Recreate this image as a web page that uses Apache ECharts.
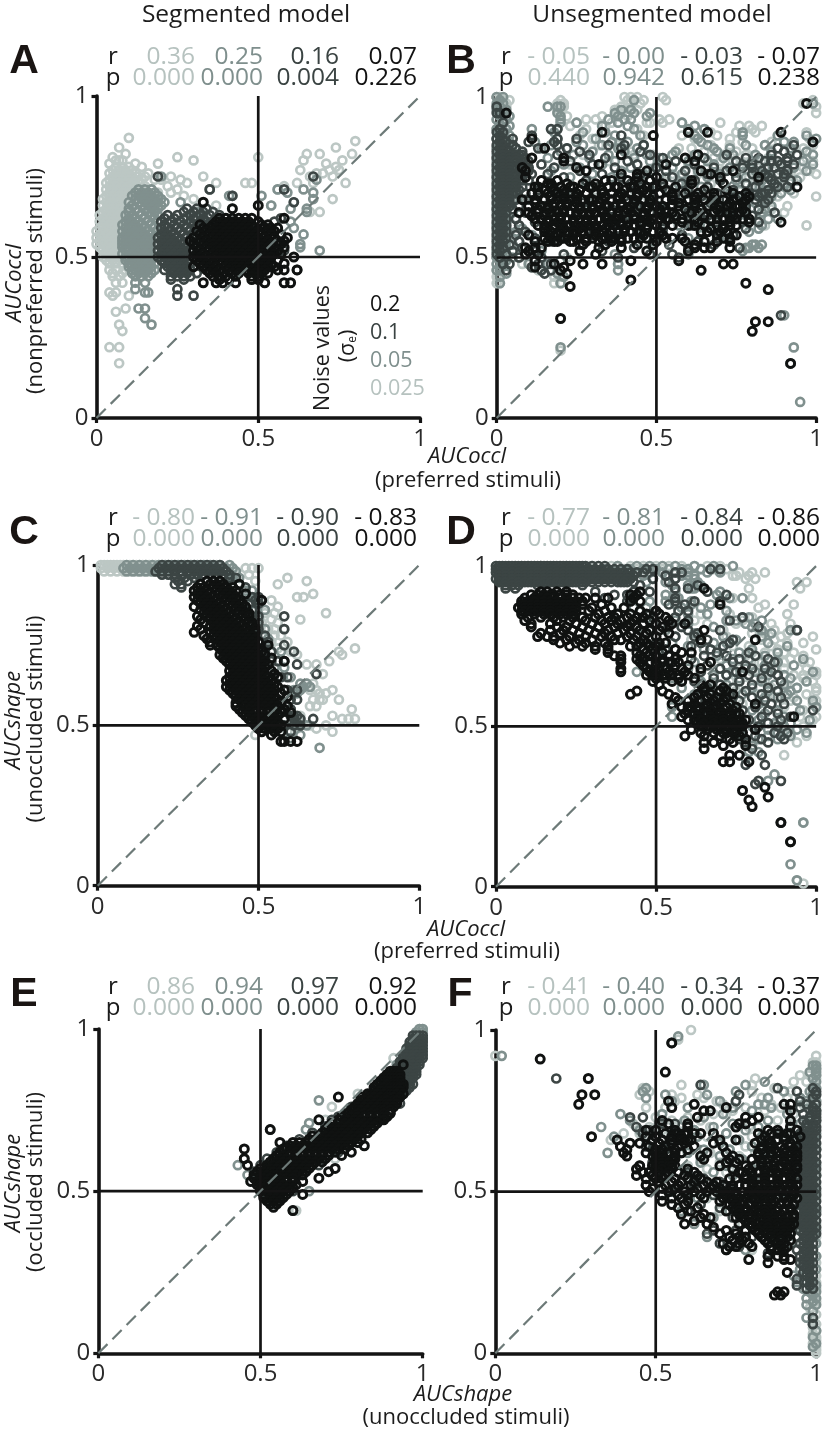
<!DOCTYPE html>
<html><head><meta charset="utf-8">
<style>html,body{margin:0;padding:0;background:#fff}#c{width:826px;height:1436px}</style>
<script src="https://cdn.jsdelivr.net/npm/echarts@6/dist/echarts.min.js"></script>
</head><body><div id="c"></div>
<script>
// Every list holds rows of [y, x, x, x ...] in hundredths of AUC.
const A_L=[[87,10],[86,80],[84,74,7],[82,9,65,69,79],[81,25,50,5],[80,6,7,8,30,64,76],[79,12,19,71,4],[78,14,74,6,8,10],[77,5,7,9,11,63,72,75],[76,4,6,8,10,12,68,70,16],[75,5,7,9,11,13,15,23,33,66,73],[74,4,6,8,10,12,14,18,20,26],[73,3,5,7,9,11,13,28,37,46,48,62,67,77],[72,4,6,8,10,12,15,22,58],[71,3,5,7,9,11,14,17,25,56],[70,4,6,8,10,12,19,23],[69,3,5,7,9,11,27],[68,2,4,6,8,10,73,30],[67,3,5,7,9,33],[66,2,4,6,8,37,54],[65,3,5,7,9,42],[64,2,4,6,8,66,69],[63,1,3,5,7,9],[62,2,4,6,8],[61,1,3,5,7],[60,2,4,6,8],[59,1,3,5,7,9],[58,0,2,4,6,8],[57,1,3,5,7],[56,0,2,4,6,8],[55,1,3,5,7],[54,0,2,4,6],[53,1,3,5,7],[52,2,4,6],[51,3,5,7],[50,2,4,6,8],[49,3,5,7],[48,4,6,8],[46,4,6,9],[45,5,8],[44,7,5],[42,8,6],[39,6,4],[38,5,10],[34,9],[33,6],[29,7],[27,8],[22,4,7],[17,7]];
const A_M=[[75,20],[74,68],[71,35,56,64,13,15,17],[70,12,14,16,18,59,67],[69,11,13,15,17,19,41,42,51],[68,12,14,16,18,20,67],[67,10,13,15,17,19,21,26,61],[66,11,14,16,18,20,54],[65,10,12,15,17,19,60,65],[64,10,13,16,18,31,65],[63,9,11,14,17,19,29,33],[62,10,12,15,18,28],[61,9,11,13,16,19,60],[60,8,10,12,14,17],[59,9,11,13,15,18,61],[58,8,10,12,14,16,19],[57,9,11,13,15,17,64],[56,8,10,12,14,16,18],[55,8,9,11,13,15,17],[54,8,10,12,14,16,18,63],[53,8,9,11,13,15,17,63],[52,9,10,12,14,16,18,69],[51,8,11,13,15,17],[50,9,10,12,14,16,18],[49,9,11,13,15,17],[48,10,12,14,16,18],[47,10,11,13,15,17],[46,11,12,14,16,18],[45,11,13,15,17],[44,12,14,16],[42,12,15],[40,12],[39,16,15],[34,13,15],[31,15],[29,17]];
const A_D=[[75,19,67],[71,58,35],[69,42],[67,61],[65,28,31,34],[64,27,30,33,36],[63,22,25,29,32,35,38],[62,21,24,27,30,33,37,40,57],[61,20,23,26,29,32,34,36,39,42,55],[60,21,24,27,30,33,35,38,41,44],[59,20,22,25,28,31,34,37,40,43,53],[58,21,23,26,29,32,35,38,41,46],[57,20,22,24,27,30,33,36,39,44,51],[56,19,21,23,25,28,31,34,37,42,48,54],[55,20,22,24,26,29,32,35,40,46,52],[54,19,21,23,25,27,30,33,38,44,50,56],[53,20,22,24,26,28,31,36,42,48,54],[52,19,21,23,25,27,29,34,40,46,52,58],[51,20,22,24,26,28,32,38,44,50,56],[50,19,21,23,25,27,30,36,42,48,54],[49,20,22,24,26,28,34,40,46,52],[48,21,23,25,27,29,32,38,44,50],[47,22,24,26,28,30,36,42,48],[46,21,23,25,27,29,34,62],[45,24,26,28,31],[44,23,25,27,29],[43,23,27],[40,25],[38,25,30]];
const A_K=[[67,33],[66,50],[65,42],[62,38,40,42,44,46,48,58],[61,37,39,41,43,45,47,50],[60,32,36,38,40,42,44,46,48,51,53],[59,33,35,37,39,41,43,45,47,49,52,54,56],[58,31,34,36,38,40,42,44,46,48,50,53,55],[57,32,35,37,39,41,43,45,47,49,51,54,57],[56,30,33,36,38,40,42,44,46,48,50,52,55,59],[55,29,32,34,37,39,41,43,45,47,49,51,53,56,58],[54,30,33,35,36,38,40,42,44,46,48,50,52,54,57],[53,31,34,36,37,39,41,43,45,47,49,51,53,55,58],[52,30,32,35,37,38,40,42,44,46,48,50,52,54,56],[51,31,33,36,38,39,41,43,45,47,49,51,53,55,57],[50,30,32,34,37,39,40,42,44,46,48,50,52,54,61],[49,31,33,35,38,40,41,43,45,47,49,51,53,56],[48,32,34,36,39,41,42,44,46,48,50,52,54,58],[47,30,33,35,37,40,42,43,45,47,49,51,53,55],[46,34,36,38,41,43,44,46,48,50,52,56,58,62],[45,35,37,39,42,44,47,49,51,53],[44,36,38,40,43,48,50],[43,38,41,48,50],[42,33,37,39,43,52,58,60]];

const B_L=[[100,0,1,40,42,44,52],[99,2,4,20,41,43,46,53,99],[98,1,19,21,96,3,42,45],[97,0,21,3,39,100],[96,2,19,37,40,42,38,44],[95,1,38,100],[94,22,33,41],[93,0,3,51,54,28,31],[92,2,25,36,47,58,70,48,52],[91,1,23,34,76,79,83],[90,0,3,28,44,65,80],[89,2,67,81,75,97],[88,1,26,46,58,69,88],[87,0,3,30,62,73,98],[86,2,4,18,36,77,86,90],[85,1,32,38,67,73,84,99],[84,0,3,57,61,80,96],[83,2,42,65,75,92],[82,1,4,27,43,49,71,78,94],[81,0,3,52,68,85,97],[80,2,35,56,74,83,99,60,70],[79,1,23,60,88,93],[78,0,3,66,76,96],[77,2,48,59,71,89,98],[76,1,55,63,83,92,100],[75,0,46,58,79,95],[74,2,52,70,87],[73,1,44,67,76,92],[72,0,60,82,90],[71,2,31,54,73,85],[70,1,41,64,80,93],[69,0,47,78,88,100],[68,2,36,57,84],[66,1,50,69,91,83],[65,0,62,86],[64,2,43,75,90],[62,1,55,82],[60,0,2,29,84,97],[58,1,3,66],[56,0,2,14],[54,1,3,46],[52,0,2],[50,1,3,22],[48,0,2,8,38],[46,0,1,19,13],[44,0,1,18,20],[42,0,1,18,20],[21,20]];
const B_M=[[100,0,2],[99,1,43],[98,0,2,99],[97,1,16,20,19],[96,0,3,39,42],[95,2,19,37,43,48],[94,1,4,20,38,47],[93,0,3,20,35,40,42],[92,2,20,25,38,58],[91,1,4,41,62,33],[90,0,3,11,19,43,60,65],[89,2,18,27,34,60,77],[88,1,4,37,45,62,77,88,97],[87,0,3,19,31,63,100],[86,2,4,12,25,36,41,64,90,93,99],[85,1,3,5,17,27,33,46,66,78,84],[84,0,2,4,6,14,22,38,44,68,73,92],[83,1,3,5,20,30,40,56,69,86,97],[82,0,2,4,6,24,35,47,55,62,74,81,99],[81,1,3,5,8,16,29,43,51,71,91],[80,0,2,4,6,37,48,60,66,80,86,96],[79,1,3,5,21,33,52,68,77,89,99],[78,0,2,4,7,26,42,55,73,84,93],[77,1,3,5,9,17,39,49,63,81,97],[76,0,2,4,6,30,46,58,70,88,91],[75,1,3,5,23,36,53,66,78,86],[74,0,2,4,7,14,44,60,75,83,94],[73,1,3,5,28,50,57,71,90],[72,0,2,4,18,40,64,80,87],[71,1,3,6,33,54,76,84,92],[70,0,2,4,24,47,60,73,81,89],[69,1,3,38,68,78,86],[68,0,2,5,9,56,75,83],[67,1,3,29,44,65,81],[66,0,2,7,51,70,86],[65,1,3,36,60,78,84],[64,0,2,5,46,68,83],[63,1,3,11,56,73,80],[62,0,2,6,47,88,85],[61,1,3,41,62,77],[60,0,2,5,18,57,66,83],[59,1,3,8,71,82],[58,0,2,6,52,79],[57,1,3,11,45,64],[56,0,2,5,60,72],[55,1,3,7,49],[54,0,2,5,80,81,83],[53,1,3,8,39,78,79,82],[52,0,2,14,77],[51,1,3,37,60],[50,0,2,5,7],[49,1,3,20],[48,0,2,10,16,38],[47,1,11],[46,0,1,14,38],[45,3,19],[44,1,21],[42,1,20],[32,90],[22,20,93],[17,92],[5,95]];
const B_D=[[97,0],[95,0,1],[92,2],[90,1,17,19],[89,0,2],[88,1,11,39],[87,0,2,5,19,25],[86,1,3,10,18],[85,0,2,5,19,35,40,46,93],[84,1,3,6,13,22,39,88],[83,0,2,4,8,26,45,90],[82,1,3,5,7,19,29,48,72,86,94,2,4,6,8],[81,0,2,4,6,9,34,52,65,78,82,91],[80,1,3,5,8,23,41,56,75,86,2,4,6,10,84,88,91],[79,0,2,4,7,14,30,44,62,80,89,93],[78,1,3,5,6,18,37,50,68,77,85,2,4,8,10,80,87],[77,0,2,4,7,10,26,53,59,72,83,91],[76,1,3,5,16,33,45,66,80,88,2,4,6,8,11,84,90],[75,0,2,4,6,21,39,55,75,85,90],[74,1,3,5,8,28,48,62,70,82,2,4,6,10,86,92],[73,0,2,4,6,17,42,58,78,87],[72,1,3,5,24,35,52,66,81,2,4,6,8,30,32,45,50,88,91],[71,0,2,4,7,13,45,60,74,85],[70,1,3,5,31,56,69,79,83,2,4,6,9,84,86],[69,0,2,4,20,40,64,76,82],[68,1,3,6,10,49,72,81,2,4,75,85],[67,0,2,4,27,58,67,84],[66,1,3,15,44,62,75,78,2,4,7],[65,0,2,5,36,53,70,82],[64,1,3,9,23,48,73,87,60,65],[63,0,2,18,41,60,66,80],[62,1,3,6,32,56,77],[61,0,2,12,46,69,82],[60,1,3,7,25,61,73],[59,0,2,16,38,52,78],[58,1,3,9,44,66],[57,0,2,6,30,58,74],[56,1,3,12,22,50,69],[55,0,2,7,17,35,63],[54,1,4,26,54,68],[53,0,2,8,43,60,76],[52,1,5,12,33],[51,0,3,21,48,55],[50,1,7,14,38,57],[48,2,4,13,17],[47,11],[46,3,14,17],[45,15],[32,89]];
const B_K=[[98,97],[95,3],[89,33,60,66,89],[88,49],[87,11],[86,99],[84,15],[82,39,63],[81,11,21,59],[80,21,62],[79,32,53],[78,25,8],[77,28,47,64,74,9],[76,67,39,44],[75,9,44,50,70,82],[74,14,19,34,41,61,36,48],[73,17,22,27,31,45,52,61,71,16],[72,12,20,24,29,35,38,43,49,56,94,13,17,23,30,37,42,47],[71,15,18,21,26,33,40,46,53,65,72],[70,11,13,19,23,28,31,36,42,47,51,59,63,74,78,16,21,25,33,39,44,55,68],[69,17,21,25,34,38,44,49,55,62,68,76,79],[68,8,15,19,23,27,30,36,41,46,53,60,65,71,78,12,17,21,25,29,33,38,43,48,55,62,68,74],[67,12,18,22,25,32,39,43,48,57,62,73,77],[66,10,14,20,24,28,34,37,45,50,55,66,70,75,16,18,22,26,30,32,35,39,42,47,52,57,62,72,76],[65,13,16,21,26,30,33,41,47,51,59,64,69,77],[64,7,17,19,23,27,31,36,40,49,53,61,68,72,76,10,13,15,21,25,29,33,38,42,46,51,55,63,70,74,78],[63,11,15,20,25,29,34,38,43,46,52,56,65,74],[62,14,18,22,26,32,35,38,41,51,54,67,71,79,12,16,20,24,28,30,34,37,43,47,49,53,58,62,69,73,75,77],[61,16,19,24,28,30,36,45,48,58,63,73,89,79],[60,13,20,23,27,33,37,43,50,60,69,75,15,18,22,25,29,31,35,39,41,45,47,52,55,62,65,71,73],[59,15,18,21,26,31,34,40,47,67,71],[58,17,22,25,29,36,42,49,64,72,15,20,24,27,31,33,38,40,45,51,66,70],[57,10,19,24,31,35,46,52,69,75],[56,15,21,28,34,43,37,39,47,55,73,17,20,25,30,33,36,41,45,53,58,71],[55,18,23,39,50,59,65,69,73,12,16,19,24,28,32,36],[54,27,34,44,49,62],[53,9,12,14,32,39,65,67,73,62],[52,26,47,10,60],[51,9,13,31],[49,12,23,42,57],[48,18,27,33,71,74],[47,12,21],[46,20,64],[45,22],[43,42],[42,78],[41,23],[40,85],[31,20],[30,81,85],[27,80],[17,92]];

const C_L=[[100,1,2,3,4,5,6,7,8,9,10,11,12,13,14,15,16,17,18,19,20,22,24,26,30,34,37],[99,1,3,5,7,9,11,13,15,17,19,21,23,35,36,46,48,50],[98,2,4,6,8,10,12,14,16,18],[97,43,47],[96,59],[95,65,49],[94,56],[91,67],[90,62,64],[89,54,50],[87,56],[85,55,52,71],[83,63,54],[82,51,56],[80,53,55,58],[78,52,55,57],[76,54,59],[74,80,56],[73,60,75],[72,76,62],[70,72],[69,68,65],[66,68,70],[63,67,65],[61,73,68,66],[60,69,71],[58,75,70,67,69],[56,66,68],[55,79],[53,73,63],[52,80,76,78],[50,71,66],[49,68,62],[48,73,59],[47,49]];
const C_M=[[100,9,11,13,15,17,19,21,23,25,27,29,31,33,35,38,41],[99,8,10,12,14,16,18,20,22,24,26,28,30,32,34,36,40,42],[98,9,11,13,15,17,19,21,38,40,43],[96,42,44],[95,41],[92,46,48],[90,49],[88,50,48],[86,49,52],[83,50],[80,52],[77,53],[73,54,57],[70,56],[68,55,58],[65,60],[63,63,65],[62,66,64],[61,63,61],[60,62],[55,60],[52,63],[50,65,62],[47,63],[46,60],[43,69]];
const C_D=[[100,20,22,24,26,28,30,32,34,36,38],[99,19,21,23,25,27,29,31,33,35,37,39],[98,18,20,22,24,26,28,30,32,34,36,38,40],[97,20,22,24,26,29,31,33,35,37,39,41],[96,24,27,30,41,43],[95,25,28],[94,24,26,44],[93,26,46],[90,48,50],[89,51,49],[88,47,50],[86,48,46],[84,58,48,50],[82,47,50],[80,58,50,48],[78,49,52],[76,50,53],[75,58],[73,61,52,54],[70,58,54,56],[69,62],[66,55,68],[65,57,59],[61,62,59],[58,60,62],[55,57,60],[53,60,62,61],[52,67,61,63],[50,58,61,63],[48,60]];
const C_K=[[95,34,36,38],[94,32,35,37,39,44],[93,31,33,36,38,40,42],[92,30,32,34,37,39,41,43],[91,31,33,35,38,40,42,46],[90,30,32,34,36,39,41,43],[89,31,33,35,37,40,42,44,51],[88,32,34,36,38,41,43,45],[87,30,33,35,37,39,42,44,46],[86,32,34,36,38,40,43,45],[85,33,35,37,39,41,44,46,47],[84,31,34,36,38,40,42,45,47],[83,32,35,37,39,41,43,46],[82,33,36,38,40,42,44,47,48],[81,31,35,37,39,41,43,45,48],[80,32,36,38,40,42,44,46,49],[79,30,35,37,39,41,43,45,47,49],[78,33,36,38,40,42,44,46,48],[77,34,37,39,41,43,45,47,49],[76,35,38,40,42,44,46,48,50],[75,35,37,39,41,43,45,47,49,53],[74,38,40,42,44,46,48,50],[73,39,41,43,45,47,49,51],[72,38,40,42,44,46,48,50,52],[71,39,41,43,45,47,49,54],[70,40,42,44,46,48,50,52,58],[69,41,43,45,47,49,51,53],[68,42,44,46,48,50,52],[67,41,43,45,47,49,51,54],[66,42,44,46,48,50,52,55],[65,41,43,45,47,49,51,53,56],[64,40,42,44,46,48,50,52,54],[63,41,43,45,47,49,51,53,55],[62,40,42,44,46,48,50,52,54,56],[61,41,43,45,47,49,51,53,55,58],[60,42,44,46,48,50,52,54,57],[59,43,45,47,49,51,53,55,59],[58,44,46,48,50,52,54,56],[57,43,45,47,49,51,53,55,57],[56,43,46,48,50,52,54,56,59],[55,44,46,47,49,51,53,55,58],[54,45,47,49,51,53,55,57,60],[53,46,48,50,52,54,56],[52,47,49,51,53,55,58],[51,48,50,52,54,56],[50,49,51,53,55,57],[49,50,52,54,56],[48,51,55,57],[47,54],[45,57,58,60,62]];

const D_L=[[100,0,2,4,6,8,10,12,14,16,18,20,24,28,32,36,38,42,46,50,54,58,62,66,70],[99,1,3,5,7,9,11,13,15,17,22,26,30,34,40,44,52,60,64,68,72],[98,0,2,4,8,48,56,76,80,84],[97,75,79,74],[96,78,81],[95,94,97],[93,79,95],[90,74,80],[88,84,93],[87,82],[85,64,73,91],[84,80],[83,62,77],[82,66,86,75,92],[80,71,87],[79,84,80,91],[78,99,72,89],[77,61,83,87],[76,91,96],[75,74,86,79],[74,100,88],[73,90,84,80,93],[72,78,96],[71,70,92,88],[70,98,74,83,82,90,96],[68,76,90,97],[67,85,80,100],[66,72,88,93,100,96],[65,96,81],[64,73,84,99],[63,78,91],[62,67,86,94,100,90],[61,100,75,90],[60,82,97],[59,69,87,93],[58,92,100],[57,77,99],[56,100,90],[55,83,96],[53,100,95],[52,99,88],[50,96,89],[48,92],[47,89,97],[45,94],[41,90],[20,96],[1,96],[2,94]];
const D_M=[[100,14,22,30,38,44,48,52,56,62,68,74],[99,26,34,42,46,50,54,58,60,64,70],[98,36,40,44,48,52,56,58,60,66,70],[97,46,54,58,60,62],[96,49,56,62],[95,47,53,63],[94,60,55,64],[93,62,61],[92,56,70],[91,53,69],[90,73,77,57],[89,48,53,61],[88,56,67,61],[87,43,47,58,64],[86,72,45],[85,51,60,66],[84,77,79,46],[83,56,83,72,75],[82,49,60,78,81],[81,44,58,68,80],[80,94,92,53,83],[79,46,62,86],[78,56,83,71],[77,64,74,75],[76,55,68,85,72],[75,48,60,71,91],[74,51,65,80],[73,76,88],[72,54,69,84],[71,74,79,96],[70,46,62,88],[69,72,84,93],[68,60,78,87],[67,44,74,81,99],[66,68,90,85],[65,55,76,92],[64,64,83,97],[63,72,87,90],[62,58,80,94],[61,70,85,92],[60,62,77,91],[59,74,84,88],[58,60,69,94,99],[57,67,82,86],[56,55,74,100],[55,80,88,95],[54,63,70,84],[53,55,75,90],[52,66,82,98],[51,74,87,92],[50,80,90],[49,72,85,94],[48,88,97],[47,77,92,85],[46,82,88],[44,80],[42,79,82],[40,78],[35,87],[33,85],[20,96],[7,92],[2,94]];
const D_D=[[100,0,2,4,6,8,10,12,14,16,18,20,22,24,26,28,1,3,5,7,9,11,13,15,17,19,21,23,25,27,30,32,34],[99,0,1,3,5,7,9,11,13,15,17,19,21,23,25,27,29,31,33,35,37,39,41,47,49,67,70],[98,0,2,4,6,8,10,12,14,16,18,20,22,24,26,28,30,32,34,36,38,40,42,44,46,56,58,1,3,5,7,9,11,13,15,17,19,21,23,25,27],[97,1,3,5,7,9,11,13,15,17,19,21,23,25,27,29,31,33,35,37,39,41,43,53],[96,0,2,4,6,8,10,12,14,16,18,20,22,24,26,28,30,32,34,36,38,40,42,49,56,1,3,5,7,9,11,13,15,17,19,21,23,25,27,29,31,33,35,37,39,41],[95,2,4,6,8,10,12,14,16,18,20,22,24,28,36,39,41,54,1,3,5,7,9,11,13,15,17,19,21,23,25,27,30,32,34,38,40,43],[94,3,5,7,13,27,45,63],[93,3,6,56,60],[92,31,43,48,66],[91,37,41,72],[90,34,42,56],[89,41,56,70,62],[88,54,59],[86,57,60],[85,48,38],[84,49,77,56],[83,43,60,73],[81,54,82,58],[80,60,94,70],[79,47,63],[78,56,62],[77,74,66],[76,73,50,64],[75,61,71],[74,67,56,53],[73,69,79],[72,65,81,72],[71,61,76,85],[70,74,87],[69,66,78],[68,70,84,80],[67,64,75,86],[66,72,79,88],[65,68,83],[64,62,76,89],[63,70,80],[62,74,85,66],[61,67,78,88],[60,64,73,83],[59,70,80,89],[58,63,76,84],[57,67,86,90],[56,72,81],[55,69,77,85,99],[54,75,88],[53,65,83,92],[52,71,79,89],[51,68,85],[50,75,82,88],[48,87,91],[47,81,89],[46,76,83,90],[45,78,85],[43,80],[41,83],[38,78,84],[33,89,82],[32,81],[20,89],[14,92]];
const D_K=[[93,65],[92,14,16,19,22,45],[91,11,13,15,17,18,20,22,24,44,42],[90,9,12,14,16,18,20,22,24,26,28,31,35,43],[89,8,11,13,15,17,19,21,23,25,27,42,45,10,12],[88,8,10,12,14,16,18,20,22,24,27,33,70,9,11,13,15,17,19,21,23],[87,7,9,11,13,15,17,19,21,23,25,30,36,40],[86,8,10,12,14,16,19,21,23,25,29,34,45,50,9,11,13,15,17,20,22,24],[85,8,12,15,17,20,22,24,32,38,42,47,51],[84,10,14,18,21,24,27,31,35,37,41,44,46,53],[83,9,19,23,28,33,36,39,43,48,54],[82,11,17,25,30,34,38,42,46,50,59,55],[81,11,19,22,27,32,37,41,44,52],[80,17,21,24,29,35,40,45,48,51,65],[79,14,20,26,31,34,38,42,47,54],[78,13,16,18,23,28,33,36,41,44,50],[77,18,22,26,30,37,39,43,46,81,64],[76,20,25,28,34,45,47,51,53],[75,23,27,31,35,42,48,44,50],[74,31,35,46,49,56],[73,35,44,47,52,58,61],[72,37,39,45,48,50,54],[71,39,44,46,52,56],[70,39,45,48,54,57,67,50,52,55],[69,46,50,56,60],[68,39,47,51,53,58,64],[67,39,48,50,54,59,77],[66,49,52,55,60,47,50,53,57],[65,50,53,57,62],[64,49,55,58],[63,51,67,64],[62,65,71],[61,44,52,65,70,72],[60,42,54,63,67,74],[59,56,62,66,69,72],[58,57,60,64,68,71],[57,55,62,66,70,73,81],[56,58,61,65,68,72,75,60,63,66,69,72],[55,60,63,67,70,74],[54,59,62,65,69,72,76,62,66,70,73,75],[53,58,63,67,71,73,93],[52,60,66,69,72,75,78,62,64,68,71,74,76],[51,63,65,68,71,74,77],[50,66,68,70,73,76,64,67,69,72,74,77],[49,61,66,69,72,75,81],[48,64,71,74,77,68,72,75],[47,59,65,70,76],[46,73,78],[45,65,68,74],[44,71,78],[43,65],[41,73,76],[39,71,73,79],[31,84],[30,77],[28,85],[27,79],[25,80],[20,89],[14,92]];

const E_L=[[100,99,100],[99,99,100,98],[98,98,100],[97,98,100],[95,97,99],[93,96,99],[91,91,94,98],[89,93,97],[87,95],[85,91],[80,84,80],[76,72],[72,70],[68,66],[64,60],[60,73],[56,64],[52,55],[50,54],[48,53],[44,60,61]];
const E_M=[[100,99,100],[99,100,98],[97,97,99,100],[95,96,98],[93,95,97],[91,94,97],[89,92,96],[87,93,97],[85,92,96],[83,89,95],[81,85,92],[79,83,90],[78,68],[75,79],[71,75,65],[69,53,64],[67,66],[63,57],[60,60,45],[58,43,64],[55,46],[53,47,60],[50,52,65],[46,54],[44,60]];
const E_D=[[98,99,100,97,98],[97,99,100,97,98],[96,98,100,96,97,99],[95,98,100,96,97,99],[94,97,99,95,96,98,100],[93,97,99,95,96,98,100],[92,96,99,94,95,97,98,100],[91,96,98,94,95,97,99,100],[90,95,98,93,94,96,97,99],[89,95,98,93,94,96,97,99],[88,94,97,92,93,95,96,98],[87,94,97,95,96,98],[86,93,97,95,96,98],[85,93,96,94,95,97],[84,92,96,94,95],[83,91,95,97,93,94,96],[82,90,96,93,95],[81,88,95,94],[80,86,91,94],[79,84,93],[78,82,87,92],[77,80,93],[76,78,84,91],[75,79,90],[74,76,82,90],[73,74,88],[72,72,78,85],[71,75,83],[70,70,80],[68,66,72,77],[66,62,70],[64,58,66],[62,55,65,74],[60,52,62],[58,50,58,68],[56,48,60],[54,48,53],[52,49,55],[50,50,60],[48,52,56]];
const E_K=[[89,94],[87,90,91,92],[86,89,90,91,92,93],[85,88,89,90,91,92,93],[84,87,88,89,90,91,92,93],[83,86,88,89,91,92,93,94],[82,85,87,88,90,91,92,93,94],[81,85,86,87,89,90,92,93],[80,83,84,85,86,88,90,91,92,94],[79,74,81,83,84,85,87,89,90,91,93],[78,81,82,84,86,88,89,91,92],[77,80,81,83,85,87,89,90,92],[76,79,80,82,84,86,88,89,91],[75,78,80,81,83,85,87,88,90],[74,77,79,80,82,84,86,88,90],[73,75,77,78,80,82,84,86,88,89],[72,68,74,76,77,79,81,83,85,87,88],[71,72,74,76,78,80,82,84,86],[70,71,73,75,77,79,81,83,85],[69,53,70,72,74,76,78,80,82,84],[68,69,71,73,75,77,79,81,83],[67,66,68,70,72,74,76,78,80],[66,65,67,69,71,73,75,77,79,81],[65,56,60,62,64,66,68,70,72,74,76,78,80],[64,59,61,63,65,67,69,71,73,75,77,82],[63,45,57,58,60,62,64,66,68,70,72,74,76],[62,56,59,61,63,65,67,69,71,73,78],[61,55,57,59,61,63,65,67,69,71,75],[60,45,54,56,58,60,62,64,66,68,70],[59,53,55,57,59,61,63,65,67,69],[58,46,52,54,56,58,60,62,64,66],[57,50,52,53,55,57,59,61,63,65,73],[56,49,51,53,54,56,58,60,62,64,71],[55,48,50,52,54,55,57,59,61,63],[54,48,50,51,53,55,56,58,60,68],[53,47,49,51,52,54,56,58,60,63],[52,49,50,52,53,55,57,59,61],[51,50,51,53,54,56,58,60],[50,50,52,53,55,57,59],[49,51,53,54,56,58,63],[48,51,53,55,57],[47,52,54,56],[46,53,55],[45,54],[44,60]];

const F_L=[[100,61],[97,57],[92,0,100],[90,100,99],[88,99,100],[86,98,100,95],[85,81,100],[84,93,97],[83,58,80],[82,46,87,100],[81,48,80,92,99],[80,45,55,63,100],[79,58,65,83,91],[78,56,69,75,100],[77,62,71,86,96],[76,47,53,78,89,100],[75,74,84,98],[74,68,72,93],[73,50,60,82,99],[72,55,64,88],[71,43,58,76,92,100],[70,48,67,79,96],[69,52,62,85,99],[68,40,45,72,90],[67,56,66,80,100],[66,36,61,75,95],[65,47,70,86,98],[64,58,78,100],[63,73,84,96],[62,67,81,99],[61,54,76,93],[60,64,88,97],[59,70,82,100],[58,60,75,95],[57,66,85,99],[56,72,91,100],[54,78,88,96],[52,60,84,100],[50,74,93,98],[48,66,87,100],[46,80,96],[44,70,90,100],[42,63,84,98],[40,77,100],[38,95,99],[36,83,100],[34,89,96],[32,80,99],[30,100,97],[28,96,100],[26,98],[24,100,96],[22,98,100],[20,100],[18,99],[16,100],[14,98],[12,100],[10,99],[9,100],[8,99],[7,100],[6,99],[5,100],[4,100],[3,99],[2,100],[1,100],[0,100]];
const F_M=[[98,57],[92,2],[89,99,100],[88,100],[87,98,100],[86,100],[85,99],[84,84,100],[83,65,78],[82,47,100],[81,46,75,90,98],[80,53,66,99],[79,47,85,95],[78,55,70,97,100],[77,82,84,92],[76,60,74,86,99],[75,67,80,100],[74,39,52,71,91],[73,65,78,99],[72,42,59,85,100],[71,51,74,95,98],[70,33,68,82],[69,45,62,78,99],[68,55,72,89,100],[67,37,63,83,96],[66,49,58,76,93],[65,70,86,99],[64,54,80,97],[63,65,73,100],[62,35,60,85],[61,70,92,96],[60,55,77,99],[59,64,83,97],[58,49,72,100],[57,59,80,98],[56,68,88,95],[55,74,100],[54,62,83,96],[52,57,78,99],[50,70,90,100],[48,63,85,97],[46,77,99],[44,58,73,100],[42,68,95,97],[40,62,82,99],[38,75,96,100],[36,66,87,98],[34,92,100],[32,78,97],[30,85,99,100],[28,96,98],[26,95,100],[24,93,97],[22,94,99],[21,100],[20,96,99],[19,98,100],[18,99],[17,97,100],[16,99],[15,97,100],[13,99],[11,97],[9,99],[7,100],[5,99],[3,100],[2,99]];
const F_D=[[96,55],[85,19],[83,64],[82,88,99],[81,94,100],[80,76,100],[79,99],[78,75,95],[77,97,100],[76,99,95],[75,99,100],[74,96,100],[73,42,46,98,100],[72,96,98,100],[71,52,56,97,99],[70,44,97,99,100],[69,48,96,98,100],[68,46,95,97,99],[67,50,96,98,100],[66,52,94,97,99],[65,55,96,98,100],[64,47,95,97,99],[63,49,53,94,96,98,100],[62,51,58,95,97,99],[61,50,96,98,100],[60,53,94,95,97,99],[59,49,96,98,100],[58,45,94,95,97,99],[57,55,96,98,100],[56,48,60,95,97,99],[55,52,94,96,98,100],[54,65,95,97,99],[53,70,96,98,100],[52,47,62,94,95,97,99],[51,73,96,98,100],[50,55,95,97,99],[49,68,96,98,100],[48,60,94,95,97,99],[47,75,96,98,100],[46,64,80,95,97,99],[45,70,96,98,100],[44,60,94,95,97,99],[43,85,96,98,100],[42,74,95,97,99],[41,82,96,98,100],[40,66,94,95,97,99],[39,90,96,98,100],[38,68,75,95,97,99],[37,66,85,96,98,100],[36,80,94,97,99],[35,88,96,98],[34,70,95,97,99],[33,76,96,98],[32,72,94,97,99],[31,85,96,98],[30,95,97,99],[29,96,98],[28,95,97,99],[27,96,98],[26,97,99],[25,96,98],[24,97,99],[23,94,98],[22,97,99],[21,94,98],[20,97,99],[11,99],[9,99]];
const F_K=[[96,55],[91,14],[87,53],[85,29],[80,27,31],[78,54],[77,26,62,92,90],[76,72,55],[75,67,65,92],[73,63,82,78],[72,52,80,92],[71,54,78,60,76],[70,92,60,75],[69,47,50,56,85,88,94],[68,53,56,60,68,82,86,91,88,92,57,59,62,64],[67,30,47,50,55,58,84,90,95],[66,38,49,52,57,61,70,75,83,88,93,85,90,55,58,59,60],[65,42,45,51,55,59,68,81,86,92],[64,39,48,53,57,62,71,85,89,94,83,86,92],[63,41,50,52,56,60,83,87,90,93],[62,40,47,50,54,58,66,72,84,88,92,82,86,90,94,52,54,56],[61,41,49,52,56,64,74,82,86,90,94],[60,51,53,65,73,76,85,88,92,80,83,90,94,50,52,53,55,56],[59,50,52,54,72,75,83,87,90,93],[58,45,49,51,53,56,70,81,85,89,92,78,83,87,91,94,50,52,54,55],[57,44,50,52,55,60,74,79,84,87,91,94],[56,46,48,51,54,57,62,77,82,86,90,93,76,80,84,88,91],[55,44,49,53,59,63,78,80,84,88,92],[54,47,50,52,56,60,64,75,82,86,90,94,73,78,80,84,88,92],[53,51,55,58,62,66,69,80,84,88,92],[52,47,53,57,61,65,68,71,78,82,86,90,94,74,76,80,84,88,92],[51,49,52,56,63,67,70,74,81,85,89,93],[50,48,54,59,62,66,69,73,77,80,84,87,91,71,75,79,82,86,89,93],[49,52,57,60,64,72,75,79,83,86,90,93],[48,55,58,65,71,73,76,78,82,85,88,92,74,80,84,86,90,94],[47,52,60,70,74,77,81,84,87,91],[46,55,59,73,75,79,82,86,89,93,77,84,91],[45,57,63,74,76,78,81,85,88,92],[44,61,72,75,78,80,83,86,90,76,82,84,88,92],[43,58,65,76,79,82,84,87,89,93],[42,64,67,77,80,83,86,88,91,75,79,85,89,93],[41,62,78,81,85,87,90,92],[40,59,66,79,82,84,86,89,91,76,80,85,88,93],[39,68,80,83,85,88,90,92],[38,72,81,84,87,89,91,78,82,86,88,90],[37,70,75,82,85,86,88,90,92],[36,73,76,78,83,86,89,91],[35,74,77,84,87,89,92],[34,71,76,79,85,88,90],[33,73,75,80,86,89,91],[32,72,86,88,90],[30,85,88,90],[29,79,92,90],[28,85],[25,91],[19,90,88],[18,87,89]];

const rowsA={r:["0.36","0.25","0.16","0.07"],p:["0.000","0.000","0.004","0.226"]};
const rowsB={r:["- 0.05","- 0.00","- 0.03","- 0.07"],p:["0.440","0.942","0.615","0.238"]};
const rowsC={r:["- 0.80","- 0.91","- 0.90","- 0.83"],p:["0.000","0.000","0.000","0.000"]};
const rowsD={r:["- 0.77","- 0.81","- 0.84","- 0.86"],p:["0.000","0.000","0.000","0.000"]};
const rowsE={r:["0.86","0.94","0.97","0.92"],p:["0.000","0.000","0.000","0.000"]};
const rowsF={r:["- 0.41","- 0.40","- 0.34","- 0.37"],p:["0.000","0.000","0.000","0.000"]};
const noiseLabels=["0.2","0.1","0.05","0.025"];
const unitLine=[[0,0],[1,1]], vLine=[[0.5,0],[0.5,1]], hLine=[[0,0.5],[1,0.5]];
const ringColors=['#bcc7c4','#80908e','#3c4544','#101211'];
const textColors=['#b6c2bf','#7f8f8d','#3a4342','#121212'];
const FONT='"Open Sans"';

const panels=[
 {l:'A',s:[A_L,A_M,A_D,A_K],t:rowsA,g:[96.5,96,323.5,322],lx:24,ly:62,stat:[57,78],col:0},
 {l:'B',s:[B_L,B_M,B_D,B_K],t:rowsB,g:[496.7,97,322.6,321],lx:461,ly:62,stat:[57,78],col:1},
 {l:'C',s:[C_L,C_M,C_D,C_K],t:rowsC,g:[97.7,565,321.6,320.7],lx:24,ly:533,stat:[518,539],col:0},
 {l:'D',s:[D_L,D_M,D_D,D_K],t:rowsD,g:[496,566,322.7,320.7],lx:461,ly:533,stat:[518,539],col:1},
 {l:'E',s:[E_L,E_M,E_D,E_K],t:rowsE,g:[98.3,1029,324.4,324.3],lx:24,ly:995,stat:[987,1008],col:0},
 {l:'F',s:[F_L,F_M,F_D,F_K],t:rowsF,g:[495.3,1030,323,323.3],lx:460,ly:995,stat:[987,1008],col:1}
];
const colX=[[195,263,339,417],[590,665,743,820]], rX=[113,506];
function expand(rows){const o=[];rows.forEach(r=>{for(let i=1;i<r.length;i++)o.push([r[i]/100,r[0]/100]);});return o;}
function T(text,x,y,o){o=o||{};return {type:'text',x:x,y:y,rotation:o.rot||0,silent:true,z:50,style:{text:text,font:(o.style||'normal')+' '+(o.weight||'normal')+' '+(o.size||24)+'px '+(o.family||FONT),fill:o.fill||'#1c1c1c',align:o.align||'center',verticalAlign:'middle',rich:o.rich}};}

const grid=[],xAxis=[],yAxis=[],series=[],graphic=[];
panels.forEach((p,i)=>{
 grid.push({left:p.g[0],top:p.g[1],width:p.g[2],height:p.g[3]});
 const ax={min:0,max:1,interval:0.5,splitLine:{show:false},gridIndex:i,
  axisLine:{show:true,onZero:false,lineStyle:{color:'#141414',width:3.6}},
  axisTick:{show:true,length:5,lineStyle:{color:'#141414',width:3.2}},
  axisLabel:{show:true,color:'#2a2a2a',fontFamily:FONT,fontSize:24}};
 xAxis.push(Object.assign({},ax,{type:'value',position:'bottom',axisLabel:Object.assign({},ax.axisLabel,{margin:9})}));
 yAxis.push(Object.assign({},ax,{type:'value',position:'left',axisLabel:Object.assign({},ax.axisLabel,{margin:8})}));
 p.s.forEach((rows,k)=>series.push({type:'scatter',xAxisIndex:i,yAxisIndex:i,data:expand(rows),symbol:'circle',symbolSize:8,clip:false,silent:true,animation:false,large:false,progressive:0,
   itemStyle:{color:'rgba(0,0,0,0)',borderColor:ringColors[k],borderWidth:k==3?3:2.7,opacity:1}}));
 [vLine,hLine].forEach(d=>series.push({type:'line',xAxisIndex:i,yAxisIndex:i,data:d,showSymbol:false,symbol:'none',clip:false,silent:true,animation:false,lineStyle:{color:'#141414',width:2.7}}));
 series.push({type:'line',xAxisIndex:i,yAxisIndex:i,data:unitLine,showSymbol:false,symbol:'none',clip:false,silent:true,animation:false,lineStyle:{color:'#6d7a78',width:2.2,type:[13,7]}});
 graphic.push(T(p.l,p.lx,p.ly,{size:41,weight:'bold',family:'"Liberation Sans"',fill:'#1a1513'}));
 graphic.push(T('r',rX[p.col],p.stat[0],{size:24}));
 graphic.push(T('p',rX[p.col],p.stat[1],{size:24}));
 for(let c=0;c<4;c++){
  graphic.push(T(p.t.r[c],colX[p.col][c],p.stat[0],{size:24.5,align:'right',fill:textColors[c]}));
  graphic.push(T(p.t.p[c],colX[p.col][c],p.stat[1],{size:24.5,align:'right',fill:textColors[c]}));
 }
});
const R=Math.PI/2;
graphic.push(T('Segmented model',246,15,{size:24.5}),T('Unsegmented model',652,15,{size:24.5}));
graphic.push(T('AUCoccl',467,457,{size:22,style:'italic'}),T('(preferred stimuli)',468,481,{size:22}));
graphic.push(T('AUCoccl',466,930,{size:22,style:'italic'}),T('(preferred stimuli)',467,952,{size:22}));
graphic.push(T('AUCshape',463,1395,{size:22,style:'italic'}),T('(unoccluded stimuli)',466,1418,{size:22}));
graphic.push(T('AUCoccl',15,283,{size:22,style:'italic',rot:R}),T('(nonpreferred stimuli)',36,281,{size:22,rot:R}));
graphic.push(T('AUCshape',14,720,{size:22,style:'italic',rot:R}),T('(unoccluded stimuli)',36,719,{size:22,rot:R}));
graphic.push(T('AUCshape',14,1183,{size:22,style:'italic',rot:R}),T('(occluded stimuli)',36,1182,{size:22,rot:R}));
graphic.push(T('Noise values',323,348,{size:21.5,rot:R}));
graphic.push(T('(σ{e|e})',348,346,{size:21.5,rot:R,rich:{e:{font:'normal normal 12px '+FONT,fill:'#1c1c1c',verticalAlign:'bottom',padding:[8,0,0,0]}}}));
noiseLabels.forEach((s,i)=>graphic.push(T(s,370,[305,333,361,389][i],{size:21.5,align:'left',fill:textColors[3-i]})));

const chart=echarts.init(document.getElementById('c'),null,{renderer:'canvas',width:826,height:1436});
chart.setOption({animation:false,backgroundColor:'#fff',grid,xAxis,yAxis,series,graphic:{elements:graphic}});
</script></body></html>
